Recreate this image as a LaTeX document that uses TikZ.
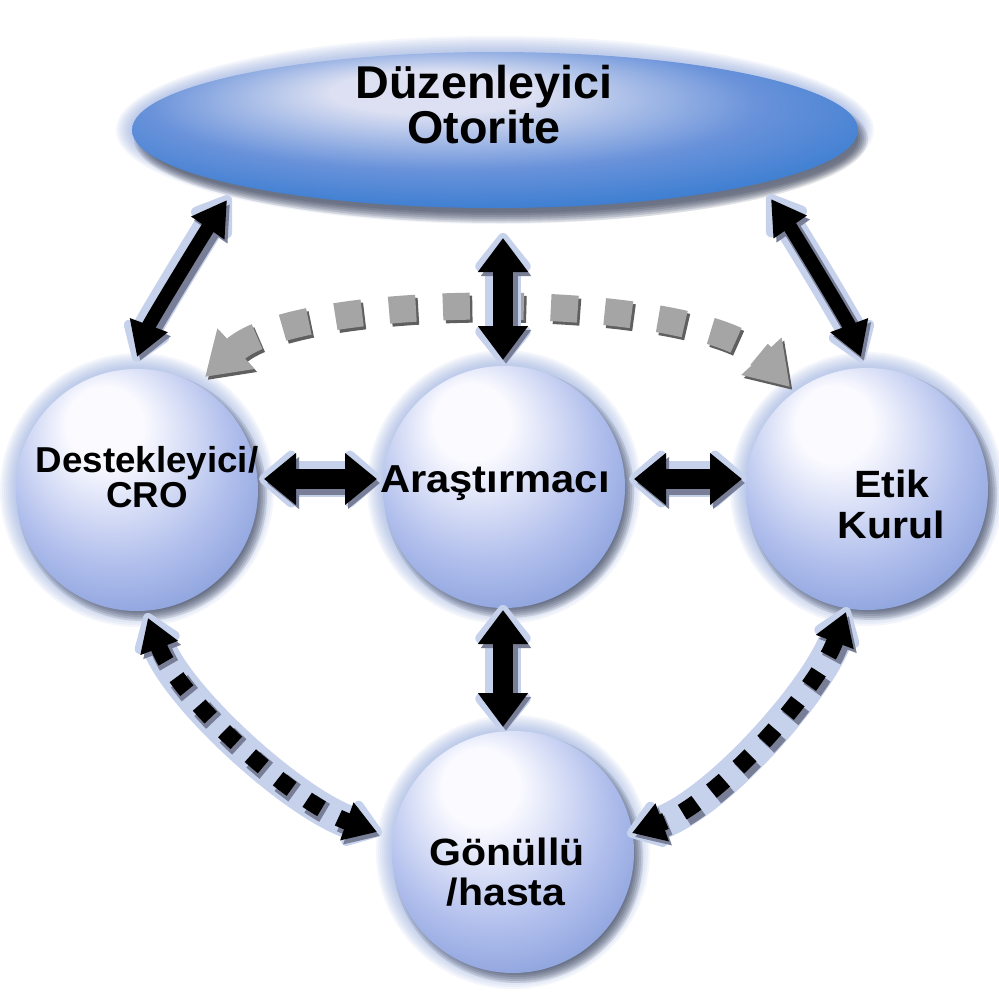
\documentclass[tikz,border=0pt]{standalone}
\usepackage{fontspec}
\setmainfont{Liberation Sans}
\usepackage{graphicx}
\usetikzlibrary{arrows.meta,shapes.geometric}
\pgfdeclarelayer{bglayer}
\pgfdeclarelayer{glowlayer}
\pgfsetlayers{bglayer,glowlayer,main}
\definecolor{cedge}{RGB}{104,134,206}
\definecolor{cmid}{RGB}{176,190,236}
\definecolor{chi}{RGB}{250,250,255}
\definecolor{eedge}{RGB}{34,114,204}
\definecolor{emid}{RGB}{105,146,218}
\definecolor{ehi}{RGB}{220,224,242}
\definecolor{glowc}{RGB}{140,165,220}
\definecolor{haloc}{RGB}{198,209,236}
\definecolor{shadc}{RGB}{45,47,60}
\definecolor{arshad}{RGB}{120,126,150}
\definecolor{dashgray}{RGB}{165,165,165}
\definecolor{dashshadow}{RGB}{95,95,95}
\pgfdeclareradialshading{bubble}{\pgfpoint{-8bp}{16bp}}{color(0bp)=(chi); color(8bp)=(chi); color(24bp)=(cmid); color(42bp)=(cedge); color(50bp)=(cedge)}
\pgfdeclareradialshading{ovalshade}{\pgfpoint{-5bp}{14bp}}{color(0bp)=(ehi); color(7bp)=(ehi); color(21bp)=(emid); color(37bp)=(eedge); color(50bp)=(eedge)}
\newcommand\fsz[1]{\fontsize{#1pt}{#1pt}\selectfont\bfseries}
% #1 extra options of main line, #2 line width, #3 head length, #4 head width, #5 path
\newcommand\glowarrow[5][]{%
  \pgfmathsetmacro\gaHaloW{#2+16}%
  \pgfmathsetmacro\gaHaloL{#3+8}%
  \pgfmathsetmacro\gaHaloWid{#4+16}%
  \pgfmathsetmacro\gaShW{#2+4}%
  \draw[haloc, line width=\gaHaloW pt, line cap=round, shorten <=-5pt, shorten >=-5pt,
    {Triangle[round,length=\gaHaloL pt,width=\gaHaloWid pt]}-{Triangle[round,length=\gaHaloL pt,width=\gaHaloWid pt]}] #5;
  \draw[arshad, line width=\gaShW pt, #1, transform canvas={shift={(3pt,-4pt)}},
    {Triangle[length=#3pt,width=#4pt]}-{Triangle[length=#3pt,width=#4pt]}] #5;
  \draw[black, line width=#2pt, #1,
    {Triangle[length=#3pt,width=#4pt]}-{Triangle[length=#3pt,width=#4pt]}] #5;
}
\begin{document}
\begin{tikzpicture}[x=1pt,y=-1pt,
  bubblenode/.style={circle, minimum size=242pt, inner sep=0pt, shading=bubble},
  ovalnode/.style={ellipse, minimum width=726pt, minimum height=156pt, inner sep=0pt, shading=ovalshade},
  lbl/.style={anchor=base, inner sep=0pt, text=black}]
\useasboundingbox (0,0) rectangle (999,994);
\begin{pgfonlayer}{bglayer}
  \fill[white] (0,0) rectangle (999,994);
\end{pgfonlayer}

% shapes
\node[ovalnode] (reg) at (495,130) {};
\node[bubblenode] (spo) at (137,490) {};
\node[bubblenode] (inv) at (504,487) {};
\node[bubblenode] (eth) at (867,489) {};
\node[bubblenode] (vol) at (513,852) {};

% glow and shadows behind the shapes
\begin{pgfonlayer}{glowlayer}
  \foreach \k in {1,...,8}{
    \fill[glowc, opacity=0.09] (reg.center) ellipse [x radius={(363+2*\k)*1pt}, y radius={(78+2*\k)*1pt}];
  }
  \foreach \k in {0,...,5}{
    \fill[shadc, opacity=0.13] ([shift={(6,9)}]reg.center) ellipse [x radius={(357+2*\k)*1pt}, y radius={(74+2*\k)*1pt}];
  }
  \foreach \n in {spo,inv,eth,vol}{
    \foreach \k in {1,...,8}{
      \fill[glowc, opacity=0.09] (\n.center) circle [radius={(121+2*\k)*1pt}];
    }
    \foreach \k in {0,...,5}{
      \fill[shadc, opacity=0.13] ([shift={(5,6)}]\n.center) circle [radius={(115+2*\k)*1pt}];
    }
  }
\end{pgfonlayer}

% grey dashed arc (under the vertical arrow)
\draw[dashshadow, line width=27pt, dash pattern=on 27pt off 27pt, transform canvas={shift={(2.5pt,-3pt)}},
  {Triangle[length=42pt,width=52pt]}-{Triangle[length=42pt,width=52pt]}]
  ([shift={(68,-113)}]spo.center) .. controls +(95,-87) and +(-90,-97) .. ([shift={(-77,-102)}]eth.center);
\draw[dashgray, line width=27pt, dash pattern=on 27pt off 27pt,
  {Triangle[length=42pt,width=52pt]}-{Triangle[length=42pt,width=52pt]}]
  ([shift={(68,-113)}]spo.center) .. controls +(95,-87) and +(-90,-97) .. ([shift={(-77,-102)}]eth.center);

% black arrows
\glowarrow{14}{34}{38}{([shift={(-268,70)}]reg.center) .. controls +(-22,32) and +(13,-35) .. ([shift={(0,-133)}]spo.center)}
\glowarrow{14}{34}{38}{([shift={(276,69)}]reg.center) .. controls +(22,32) and +(-13,-35) .. ([shift={(-6,-132)}]eth.center)}
\glowarrow{20}{34}{48}{([shift={(8,108)}]reg.center) -- ([shift={(-1,-127)}]inv.center)}
\glowarrow{20}{32}{50}{([shift={(127,-11)}]spo.center) -- ([shift={(-127,-8)}]inv.center)}
\glowarrow{20}{32}{50}{([shift={(130,-8)}]inv.center) -- ([shift={(-125,-10)}]eth.center)}
\glowarrow{20}{34}{48}{([shift={(-1,123)}]inv.center) -- ([shift={(-10,-125)}]vol.center)}
\glowarrow[dash pattern=on 17pt off 19pt]{17}{32}{38}{([shift={(11,128)}]spo.center) .. controls +(30,80) and +(-85,-30) .. ([shift={(-136,-20)}]vol.center)}
\glowarrow[dash pattern=on 17pt off 19pt]{17}{32}{38}{([shift={(-21,123)}]eth.center) .. controls +(-30,80) and +(85,-30) .. ([shift={(119,-19)}]vol.center)}

% labels
\node[lbl, font=\fsz{46}] (regA) at (484,98) {\scalebox{1.015}[1]{Düzenleyici}};
\node[lbl, font=\fsz{46}] (regB) at (484,143) {\scalebox{1.015}[1]{Otorite}};
\node[lbl, font=\fsz{36}] (spoA) at (147,472) {\scalebox{1.02}[1]{Destekleyici/}};
\node[lbl, font=\fsz{36}] (spoB) at (147,507) {\scalebox{1.02}[1]{CRO}};
\node[lbl, font=\fsz{39}] (invA) at (495,492) {\scalebox{1.07}[1]{Araştırmacı}};
\node[lbl, font=\fsz{38}] (ethA) at (892,497) {\scalebox{1.08}[1]{Etik}};
\node[lbl, font=\fsz{38}] (ethB) at (891,538) {\scalebox{1.08}[1]{Kurul}};
\node[lbl, font=\fsz{38}] (volA) at (507,865) {\scalebox{1.08}[1]{Gönüllü}};
\node[lbl, font=\fsz{38}] (volB) at (506,905) {\scalebox{1.08}[1]{/hasta}};
\end{tikzpicture}
\end{document}
